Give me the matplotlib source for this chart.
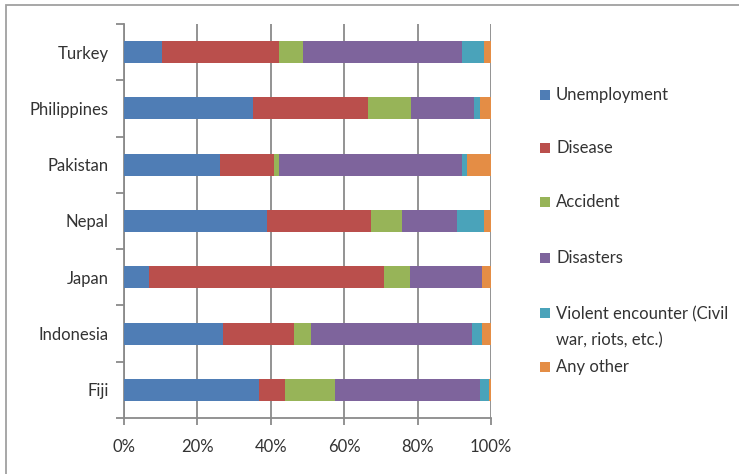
import matplotlib
matplotlib.use("Agg")
import matplotlib.pyplot as plt
from matplotlib.patches import Rectangle
import numpy as np

# --- data (percent shares) ---
countries = ["Fiji", "Indonesia", "Japan", "Nepal", "Pakistan", "Philippines", "Turkey"]
causes = ["Unemployment", "Disease", "Accident", "Disasters",
          "Violent encounter (Civil\nwar, riots, etc.)", "Any other"]

unemployment = [36.7, 27.0, 6.8, 38.9, 26.2, 35.1, 10.4]
disease = [7.3, 19.4, 64.0, 28.3, 14.6, 31.5, 31.8]
accident = [13.6, 4.5, 7.2, 8.5, 1.3, 11.6, 6.6]
disasters = [39.5, 43.9, 19.6, 15.0, 49.9, 17.1, 43.3]
violent = [2.4, 2.7, 0.0, 7.3, 1.4, 1.8, 6.0]
other = [0.5, 2.5, 2.4, 2.0, 6.6, 2.9, 1.9]

series = [unemployment, disease, accident, disasters, violent, other]
colors = ["#4F7DB5", "#BA4F4C", "#97B458", "#7E649C", "#4AA3BA", "#E48D45"]

text_color = "#333333"
fs = 12
plt.rcParams["font.family"] = ["Lato", "DejaVu Sans"]

fig = plt.figure(figsize=(7.39, 4.74), dpi=100)
ax = fig.add_axes([124 / 739, 1 - 418 / 474, 367 / 739, 394 / 474])

# --- stacked horizontal bars ---
y = np.arange(len(countries))
left = np.zeros(len(countries))
for vals, col in zip(series, colors):
    ax.barh(y, vals, left=left, height=0.39, color=col, zorder=3)
    left += np.array(vals)

ax.set_xlim(0, 100)
ax.set_ylim(-0.5, len(countries) - 0.5)

ax.set_xticks(np.arange(0, 101, 20))
ax.set_xticklabels([f"{v}%" for v in range(0, 101, 20)])
ax.set_yticks(y)
ax.set_yticklabels(countries)
ax.set_yticks(np.arange(-0.5, len(countries)), minor=True)

ax.grid(axis="x", color="#8a8a8a", linewidth=1.3, zorder=0)
for s in ["top", "right"]:
    ax.spines[s].set_visible(False)
for s in ["left", "bottom"]:
    ax.spines[s].set_color("#8a8a8a")
    ax.spines[s].set_linewidth(1.3)

ax.tick_params(axis="y", which="major", length=0, pad=11, labelsize=fs, labelcolor=text_color)
ax.tick_params(axis="y", which="minor", length=6, width=1.3, color="#8a8a8a")
ax.tick_params(axis="x", length=5, width=1.3, color="#8a8a8a", pad=10,
               labelsize=fs, labelcolor=text_color)

# --- legend drawn by hand to match the spacing ---
legend_y = [95, 148, 202, 258, 313, 367]
for col, label, ly in zip(colors, causes, legend_y):
    fig.patches.append(Rectangle((540 / 739, 1 - (ly + 5) / 474), 10 / 739, 10 / 474,
                                 transform=fig.transFigure, facecolor=col, edgecolor="none"))
    if "\n" in label:
        fig.text(556 / 739, 1 - (ly - 7) / 474, label, fontsize=fs, color=text_color,
                 va="top", linespacing=1.75, transform=fig.transFigure)
    else:
        fig.text(556 / 739, 1 - ly / 474, label, fontsize=fs, color=text_color,
                 va="center", transform=fig.transFigure)

# outer chart frame
fig.patches.append(Rectangle((6 / 739, -0.05), 1.1, 1 - 5 / 474 + 0.05,
                             transform=fig.transFigure, facecolor="none",
                             edgecolor="#a0a0a0", linewidth=1.3))

fig.savefig("out.png", dpi=100)
